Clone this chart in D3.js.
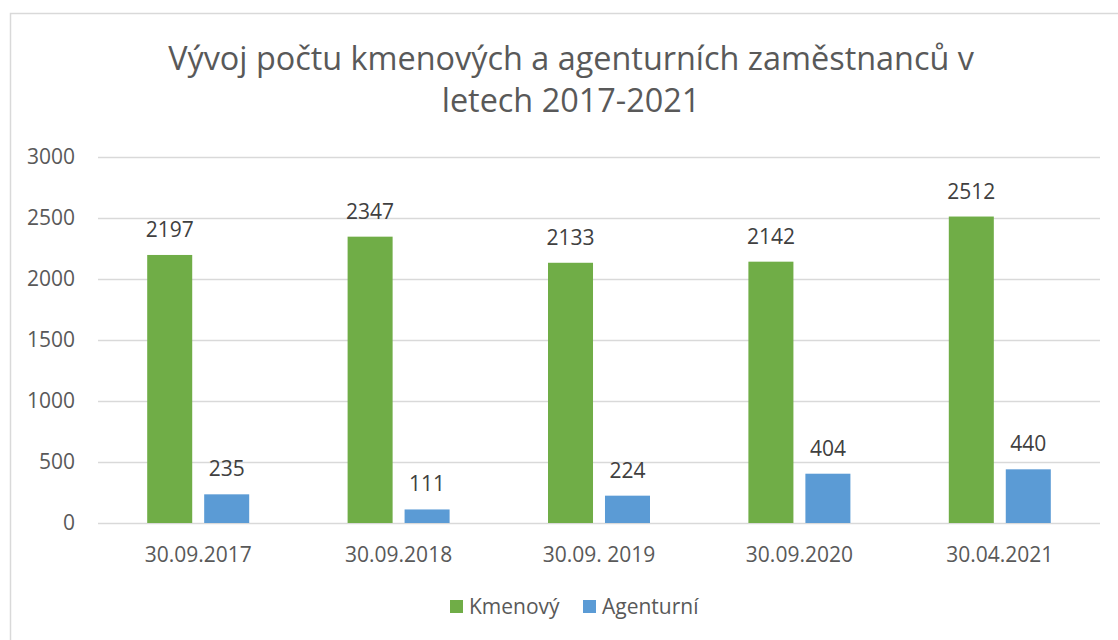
<!DOCTYPE html>
<html><head><meta charset="utf-8">
<script src="https://cdn.jsdelivr.net/npm/d3@7"></script>
<style>body{margin:0;background:#fff}svg{display:block}text{font-family:"Open Sans",sans-serif}</style>
</head><body>
<svg id="c" width="1118" height="640"></svg>
<script>
const categories = ["30.09.2017","30.09.2018","30.09. 2019","30.09.2020","30.04.2021"];
const seriesNames = ["Kmenový","Agenturní"];
const kmenovy = [2197,2347,2133,2142,2512];
const agenturni = [235,111,224,404,440];
const yTicks = [0,500,1000,1500,2000,2500,3000];
const colors = ["#70AD47","#5B9BD5"];
const titleLines = ["Vývoj počtu kmenových a agenturních zaměstnanců v","letech 2017-2021"];

const svg = d3.select("#c");
svg.append("rect").attr("x",10.5).attr("y",13.5).attr("width",1130).attr("height",660)
  .attr("fill","#fff").attr("stroke","#d9d9d9").attr("stroke-width",1.5);

const plot = {left:98, right:1100, top:157, bottom:523};
const x = d3.scaleBand().domain(categories).range([plot.left, plot.right]).paddingInner(0).paddingOuter(0);
const y = d3.scaleLinear().domain([0,3000]).range([plot.bottom, plot.top]);
const bw = x.bandwidth();
const inner = d3.scaleBand().domain(seriesNames).range([bw/2-51, bw/2+51]).paddingInner(0.21).paddingOuter(0);

// grid
svg.append("g").selectAll("line").data(yTicks).join("line")
  .attr("x1",plot.left).attr("x2",plot.right)
  .attr("y1",d=>Math.round(y(d))+0.5).attr("y2",d=>Math.round(y(d))+0.5)
  .attr("stroke","#d9d9d9").attr("stroke-width",1.3);

// y axis labels
const yAxis = d3.axisLeft(y).tickValues(yTicks).tickFormat(d3.format("d")).tickSize(0).tickPadding(23);
const ga = svg.append("g").attr("transform",`translate(${plot.left},0)`).call(yAxis);
ga.select(".domain").remove();
ga.selectAll("text").attr("font-size",21).attr("fill","#595959").attr("font-family","Open Sans");

// x axis labels
const xAxis = d3.axisBottom(x).tickSize(0).tickPadding(24);
const gx = svg.append("g").attr("transform",`translate(0,${plot.bottom})`).call(xAxis);
gx.select(".domain").remove();
gx.selectAll("text").attr("font-size",21).attr("fill","#595959").attr("font-family","Open Sans");

const series = [kmenovy, agenturni];
series.forEach((vals,si)=>{
  const g = svg.append("g");
  g.selectAll("rect").data(vals).join("rect")
    .attr("x",(d,i)=>x(categories[i])+inner(seriesNames[si]))
    .attr("width",inner.bandwidth())
    .attr("y",d=>y(d)).attr("height",d=>y(0)-y(d))
    .attr("fill",colors[si]);
  g.selectAll("text").data(vals).join("text")
    .attr("x",(d,i)=>x(categories[i])+inner(seriesNames[si])+inner.bandwidth()/2)
    .attr("y",d=>y(d)-18)
    .attr("text-anchor","middle").attr("font-size",21).attr("fill","#404040")
    .text(d=>d);
});

// title
svg.append("g").selectAll("text").data(titleLines).join("text")
  .attr("x",571).attr("y",(d,i)=>70+i*42)
  .attr("text-anchor","middle").attr("font-size",32.4).attr("fill","#595959")
  .text(d=>d);

// legend
const leg = svg.append("g");
const legX = [450,583];
seriesNames.forEach((n,i)=>{
  leg.append("rect").attr("x",legX[i]).attr("y",600).attr("width",13).attr("height",13).attr("fill",colors[i]);
  leg.append("text").attr("x",legX[i]+19).attr("y",614).attr("font-size",21).attr("fill","#595959").text(n);
});
</script>
</body></html>
